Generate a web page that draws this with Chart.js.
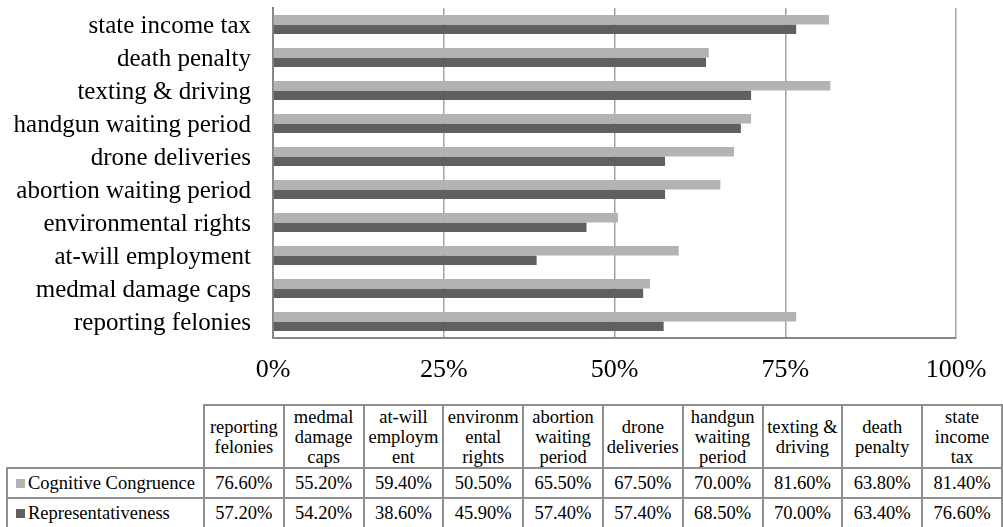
<!DOCTYPE html>
<html>
<head>
<meta charset="utf-8">
<script src="https://cdn.jsdelivr.net/npm/chart.js@4.4.1/dist/chart.umd.min.js"></script>
<style>
  html, body { margin: 0; padding: 0; background: #fff; overflow: hidden; }
  body { width: 1003px; height: 527px; position: relative; font-family: "Liberation Serif", "Times New Roman", serif; }
  #wrap { position: absolute; left: 0; top: 0; width: 1003px; height: 395px; }
  #tbl {
    position: absolute; left: 6px; top: 404px;
    border-collapse: collapse; table-layout: fixed;
    font-family: "Liberation Serif", "Times New Roman", serif; color: #000;
  }
  #tbl td, #tbl th { border: 2px solid #8f8f8f; padding: 0 2px; text-align: center; font-weight: normal; }
  #tbl th { font-size: 18.5px; line-height: 20px; height: 61px; vertical-align: middle; overflow-wrap: anywhere; }
  #tbl th.blank { border: none; border-right: 2px solid #8f8f8f; border-bottom: 2px solid #8f8f8f; }
  #tbl td { font-size: 18.5px; height: 28px; white-space: nowrap; }
  #tbl td.name { text-align: left; padding-left: 8px; }
  .key { display: inline-block; width: 9px; height: 9px; margin-right: 3px; vertical-align: 1px; }
</style>
</head>
<body>
<div id="wrap"><canvas id="c" width="1003" height="395"></canvas></div>
<table id="tbl"></table>
<script>
// Issues, in table order (left to right); the chart lists them bottom to top.
const categories = [
  "reporting felonies", "medmal damage caps", "at-will employment",
  "environmental rights", "abortion waiting period", "drone deliveries",
  "handgun waiting period", "texting & driving", "death penalty", "state income tax"
];
const cognitiveCongruence = [76.6, 55.2, 59.4, 50.5, 65.5, 67.5, 70.0, 81.6, 63.8, 81.4];
const representativeness  = [57.2, 54.2, 38.6, 45.9, 57.4, 57.4, 68.5, 70.0, 63.4, 76.6];
const seriesNames = ["Cognitive Congruence", "Representativeness"];
const seriesColors = ["#b3b3b3", "#606060"];
const xTicks = [0, 25, 50, 75, 100];

const serif = "'Liberation Serif', 'Times New Roman', serif";

// Keep the plot box fixed: drop the extra edge padding the scales ask for.
function noEdgePadding(s) {
  s.paddingTop = 0; s.paddingBottom = 0; s.paddingLeft = 0; s.paddingRight = 0;
}

new Chart(document.getElementById("c"), {
  type: "bar",
  data: {
    labels: categories,
    datasets: [
      { label: seriesNames[0], data: cognitiveCongruence, backgroundColor: seriesColors[0] },
      { label: seriesNames[1], data: representativeness, backgroundColor: seriesColors[1] }
    ]
  },
  options: {
    indexAxis: "y",
    responsive: false,
    animation: false,
    layout: { padding: { top: 8, right: 47, left: 0, bottom: 0 } },
    datasets: { bar: { barPercentage: 1.0, categoryPercentage: 0.58 } },
    plugins: { legend: { display: false }, tooltip: { enabled: false } },
    scales: {
      x: {
        min: 0, max: 100,
        afterBuildTicks: s => { s.ticks = xTicks.map(v => ({ value: v })); },
        afterFit: s => { s.height = 57; noEdgePadding(s); },
        ticks: {
          callback: v => v + "%",
          color: "#000",
          font: { family: serif, size: 26 },
          padding: 17,
          maxRotation: 0
        },
        grid: { color: "#a3a3a3", lineWidth: 1.5, drawTicks: false },
        border: { display: true, color: "#878787", width: 2 }
      },
      y: {
        reverse: true,
        afterFit: s => { s.width = 273; noEdgePadding(s); },
        ticks: { color: "#000", font: { family: serif, size: 25 }, padding: 22, labelOffset: 2, autoSkip: false },
        grid: { display: false, drawTicks: false },
        border: { display: true, color: "#878787", width: 2 }
      }
    }
  }
});

// Data table under the chart
const tbl = document.getElementById("tbl");
let html = '<colgroup><col style="width:197px">' + categories.map(() => '<col style="width:80px">').join("") + '</colgroup>';
html += '<tr><th class="blank"></th>' + categories.map(c => '<th>' + c.replace(/&/g, "&amp;") + '</th>').join("") + '</tr>';
[cognitiveCongruence, representativeness].forEach((vals, i) => {
  html += '<tr><td class="name"><span class="key" style="background:' + seriesColors[i] + '"></span>' + seriesNames[i] + '</td>' +
    vals.map(v => '<td>' + v.toFixed(2) + '%</td>').join("") + '</tr>';
});
tbl.innerHTML = html;
</script>
</body>
</html>
